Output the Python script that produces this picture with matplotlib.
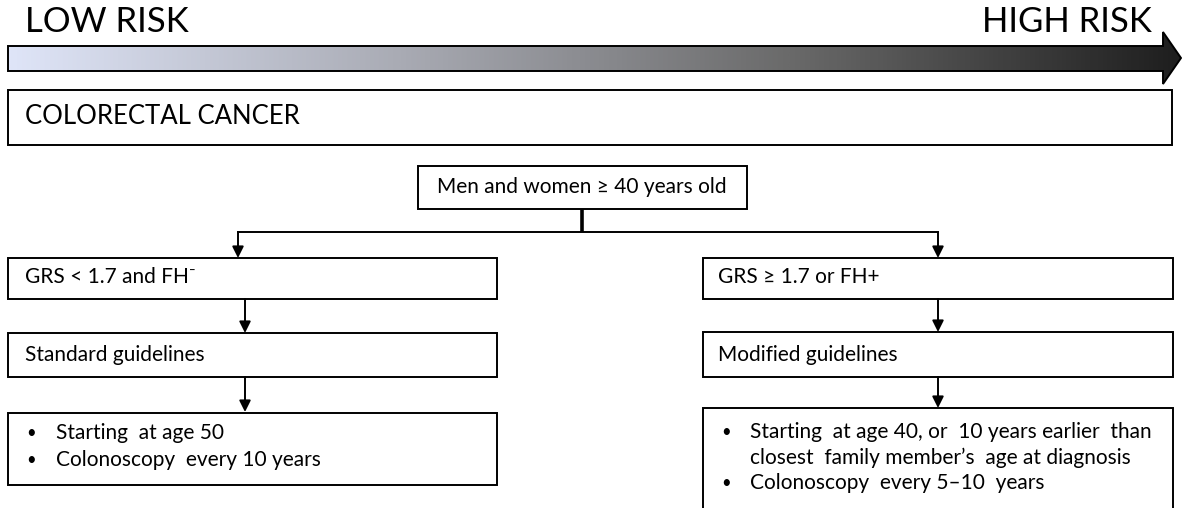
import numpy as np
import matplotlib.pyplot as plt
from matplotlib.patches import Polygon, Rectangle
from matplotlib.colors import LinearSegmentedColormap

plt.rcParams['font.family'] = ['Lato', 'DejaVu Sans']

# texts of the chart
risk_labels = ['LOW RISK', 'HIGH RISK']
disease = 'COLORECTAL CANCER'
population = 'Men and women \u2265 40 years old'
branch_labels = ['GRS < 1.7 and FH\u207b', 'GRS \u2265 1.7 or FH+']
guideline_labels = ['Standard guidelines', 'Modified guidelines']
left_bullets = ['Starting  at age 50', 'Colonoscopy  every 10 years']
right_bullets = ['Starting  at age 40, or  10 years earlier  than',
                 'closest  family member\u2019s  age at diagnosis',
                 'Colonoscopy  every 5\u201310  years']
right_bullet_marks = [True, False, True]

W, H = 1182, 508
fig = plt.figure(figsize=(W / 100, H / 100), dpi=100)
ax = fig.add_axes([0, 0, 1, 1])
ax.set_xlim(0, W)
ax.set_ylim(H, 0)
ax.axis('off')

lw = 1.4
fs = 15

# gradient risk arrow
arrow_pts = [(8, 46), (1163, 46), (1163, 32), (1181, 58), (1163, 84), (1163, 71), (8, 71)]
cmap = LinearSegmentedColormap.from_list('risk', ['#dfe5f8', '#a9abb4', '#6a6a6a', '#1e1e1e'])
grad = np.linspace(0, 1, 512).reshape(1, -1)
im = ax.imshow(grad, cmap=cmap, aspect='auto', extent=(8, 1181, 84, 32), zorder=1)
arrow = Polygon(arrow_pts, closed=True, facecolor='none', edgecolor='black', lw=lw, zorder=2)
ax.add_patch(arrow)
im.set_clip_path(arrow)

ax.text(25, 22, risk_labels[0], fontsize=25, ha='left', va='center')
ax.text(1152, 22, risk_labels[1], fontsize=25, ha='right', va='center')


def box(x0, y0, x1, y1, thick=lw):
    ax.add_patch(Rectangle((x0, y0), x1 - x0, y1 - y0, facecolor='white',
                           edgecolor='black', lw=thick, zorder=3))


def down_arrow(x, y0, y1):
    ax.annotate('', xy=(x, y1), xytext=(x, y0),
                arrowprops=dict(arrowstyle='-|>', color='black', lw=lw,
                                mutation_scale=17, shrinkA=0, shrinkB=0), zorder=4)


# disease box
box(8, 90, 1172, 145)
ax.text(25, 117, disease, fontsize=18.5, ha='left', va='center', zorder=5)

# population box and split
box(418, 166, 747, 209)
ax.text(582, 187, population, fontsize=fs, ha='center', va='center', zorder=5)
ax.plot([582, 582], [209, 232], color='black', lw=2.6, solid_capstyle='butt', zorder=4)
ax.plot([238, 938], [232, 232], color='black', lw=lw, zorder=4)
down_arrow(238, 232, 258)
down_arrow(938, 232, 258)

# left column
box(8, 258, 497, 299)
ax.text(25, 277, branch_labels[0], fontsize=fs, ha='left', va='center', zorder=5)
down_arrow(245, 299, 333)
box(8, 333, 497, 377)
ax.text(25, 355, guideline_labels[0], fontsize=fs, ha='left', va='center', zorder=5)
down_arrow(245, 377, 412)
box(8, 413, 497, 485)
for i, line in enumerate(left_bullets):
    y = 433 + i * 27
    ax.text(26, y, '\u2022', fontsize=12, ha='left', va='center', zorder=5)
    ax.text(56, y, line, fontsize=fs, ha='left', va='center', zorder=5)

# right column
box(703, 258, 1173, 299)
ax.text(718, 277, branch_labels[1], fontsize=fs, ha='left', va='center', zorder=5)
down_arrow(938, 299, 332)
box(703, 332, 1173, 377)
ax.text(718, 355, guideline_labels[1], fontsize=fs, ha='left', va='center', zorder=5)
down_arrow(938, 377, 408)
box(703, 408, 1173, 520)
for i, (line, mark) in enumerate(zip(right_bullets, right_bullet_marks)):
    y = 432 + i * 25.5
    if mark:
        ax.text(721, y, '\u2022', fontsize=12, ha='left', va='center', zorder=5)
    ax.text(750, y, line, fontsize=fs, ha='left', va='center', zorder=5)

fig.savefig('out.png', dpi=100)
